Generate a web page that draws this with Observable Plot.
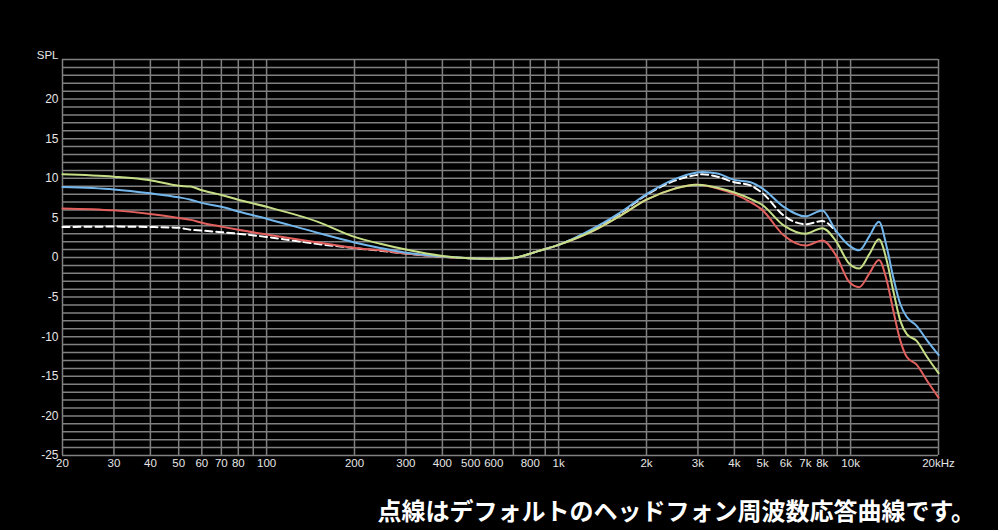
<!DOCTYPE html>
<html>
<head>
<meta charset="utf-8">
<script src="https://cdn.jsdelivr.net/npm/d3@7"></script>
<script src="https://cdn.jsdelivr.net/npm/@observablehq/plot@0.6"></script>
<style>
  html, body { margin: 0; padding: 0; background: #000; }
  #chart { width: 998px; height: 485px; }
  #caption {
    width: 998px; box-sizing: border-box; margin-top: 10px;
    padding-right: 23px; text-align: right;
    font-family: "Noto Sans CJK JP", sans-serif; font-weight: 700;
    font-size: 24px; line-height: 30px; color: #fff;
  }
</style>
</head>
<body>
<div id="chart"></div>
<div id="caption">点線はデフォルトのヘッドフォン周波数応答曲線です。</div>
<script>
const freqs = [20, 30, 40, 50, 55, 60, 70, 80, 100, 150, 200, 245, 300, 400, 500, 600, 700, 850, 1000, 1350, 1630, 2000, 2500, 2950, 3100, 3500, 4000, 4540, 5000, 5900, 7000, 8000, 8900, 9900, 10700, 11600, 12500, 13300, 14000, 14800, 15600, 16800, 18300, 20000];
const blue   = [8.9, 8.6, 8.1, 7.6, 7.3, 6.9, 6.4, 5.8, 4.9, 3.1, 1.9, 1.2, 0.6, 0.13, -0.1, -0.17, -0.05, 0.8, 1.6, 3.9, 5.7, 8.0, 9.9, 10.7, 10.8, 10.6, 9.8, 9.5, 8.7, 6.4, 5.2, 5.95, 3.4, 1.5, 0.9, 2.7, 4.5, 1.3, -2.5, -5.9, -7.55, -8.6, -10.5, -12.3];
const green  = [10.5, 10.2, 9.75, 9.05, 8.95, 8.5, 7.9, 7.3, 6.4, 4.5, 2.6, 1.73, 1.0, 0.2, -0.1, -0.17, -0.05, 0.8, 1.6, 3.6, 5.3, 7.3, 8.7, 9.2, 9.15, 8.8, 8.2, 7.4, 6.6, 4.05, 3.0, 3.7, 2.1, -0.8, -1.4, 0.45, 2.3, -0.4, -4.2, -8.0, -9.7, -10.5, -12.6, -14.6];
const red    = [6.2, 5.95, 5.5, 5.0, 4.75, 4.4, 3.9, 3.5, 2.9, 1.9, 1.2, 0.9, 0.5, 0.1, -0.1, -0.17, -0.05, 0.8, 1.6, 3.6, 5.3, 7.3, 8.7, 9.2, 9.15, 8.7, 8.0, 7.0, 5.95, 2.8, 1.5, 2.15, 0.3, -3.1, -3.75, -2.0, -0.3, -2.9, -6.7, -10.5, -12.6, -13.5, -15.6, -17.7];
const dashed = [3.85, 3.9, 3.85, 3.75, 3.5, 3.4, 3.2, 3.0, 2.6, 1.7, 1.2, 0.85, 0.5, 0.1, -0.1, -0.17, -0.05, 0.8, 1.6, 3.8, 5.6, 7.9, 9.7, 10.4, 10.5, 10.2, 9.5, 9.1, 8.1, 5.3, 4.2, 4.6, 3.3, null, null, null, null, null, null, null, null, null, null, null];

const xTickValues = [20, 30, 40, 50, 60, 70, 80, 100, 200, 300, 400, 500, 600, 800, 1000, 2000, 3000, 4000, 5000, 6000, 7000, 8000, 10000, 20000];
const xTickLabels = ["20", "30", "40", "50", "60", "70", "80", "100", "200", "300", "400", "500", "600", "800", "1k", "2k", "3k", "4k", "5k", "6k", "7k", "8k", "10k", "20kHz"];
const yTickValues = [20, 15, 10, 5, 0, -5, -10, -15, -20, -25];
const gridFreqs = [20, 30, 40, 50, 60, 70, 80, 90, 100, 200, 300, 400, 500, 600, 700, 800, 900, 1000, 2000, 3000, 4000, 5000, 6000, 7000, 8000, 9000, 10000, 20000];
const gridDb = d3.range(-25, 26, 1);

const seriesDefs = [
  {name: "dashed", values: dashed, color: "#ffffff", dash: "7,4"},
  {name: "red", values: red, color: "#e2605e", dash: null},
  {name: "blue", values: blue, color: "#72b6ec", dash: null},
  {name: "green", values: green, color: "#c6de86", dash: null}
];

const gridColor = "#808080";
const labelColor = "#e6e6e6";
const xLabelRows = xTickValues.map((v, i) => ({v, label: xTickLabels[i]}));

const marks = [
  Plot.gridX(gridFreqs, {stroke: gridColor, strokeOpacity: 1, strokeWidth: 1.5}),
  Plot.gridY(gridDb, {stroke: gridColor, strokeOpacity: 1, strokeWidth: 1.5}),
  Plot.text(xLabelRows, {x: "v", text: "label", frameAnchor: "bottom", dy: 11, fontSize: 11.5, fill: labelColor}),
  Plot.axisY(yTickValues, {tickSize: 0, tickPadding: 4, fontSize: 12, fill: labelColor, label: null, tickFormat: d => String(d)}),
  Plot.text(["SPL"], {frameAnchor: "top-left", dx: -4, dy: -9, textAnchor: "end", fontSize: 11.5, fill: labelColor})
];

for (const s of seriesDefs) {
  const rows = freqs.map((f, i) => ({f, v: s.values[i]})).filter(d => d.v !== null);
  marks.push(Plot.line(rows, {
    x: "f", y: "v", stroke: s.color, strokeWidth: 2,
    strokeDasharray: s.dash, curve: "monotone-x"
  }));
}

const chart = Plot.plot({
  width: 998,
  height: 485,
  marginLeft: 62,
  marginRight: 60,
  marginTop: 59,
  marginBottom: 30,
  style: {background: "#000", color: labelColor, fontFamily: "'Liberation Sans', Arial, sans-serif", overflow: "visible"},
  x: {type: "log", domain: [20, 20000], axis: null},
  y: {domain: [-25, 25]},
  marks
});
document.getElementById("chart").appendChild(chart);
</script>
</body>
</html>
